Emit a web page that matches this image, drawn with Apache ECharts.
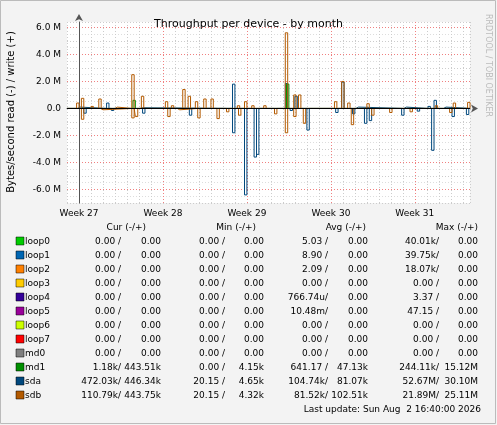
<!DOCTYPE html>
<html>
<head>
<meta charset="utf-8">
<script src="https://cdn.jsdelivr.net/npm/echarts@6/dist/echarts.min.js"></script>
<style>
  html, body { margin: 0; padding: 0; background: #f3f3f3; }
  #chart { width: 497px; height: 425px; }
</style>
</head>
<body>
<div id="chart"></div>
<script>
// spikes: [day since left edge, value in bytes/s], write positive, read negative
const sdaWrite = [[1.0, 0.1e6], [3.4, 0.4e6], [6.2, 0.05e6], [13.9, 1.8e6], [18.3, 1.85e6], [19.1, 0.9e6], [23.0, 1.95e6], [24.2, 0.1e6], [28.2, 0.1e6], [30.2, 0.15e6], [30.7, 0.6e6], [31.5, 0.1e6]];
const sdaRead = [[1.5, -0.35e6], [3.8, -0.15e6], [6.4, -0.35e6], [10.3, -0.5e6], [13.9, -1.8e6], [14.9, -6.4e6], [15.7, -3.6e6], [15.9, -3.4e6], [18.7, -0.15e6], [20.1, -1.6e6], [22.5, -0.3e6], [23.9, -0.4e6], [24.9, -1.1e6], [25.3, -0.9e6], [28.0, -0.5e6], [29.3, -0.2e6], [30.5, -3.1e6], [32.2, -0.6e6], [33.4, -0.45e6]];
const sdbWrite = [[0.9, 0.4e6], [1.3, 0.75e6], [2.1, 0.15e6], [2.75, 0.7e6], [4.1, 0.1e6], [5.5, 2.5e6], [6.3, 0.9e6], [8.3, 0.5e6], [8.8, 0.2e6], [9.75, 1.4e6], [10.2, 0.9e6], [10.8, 0.5e6], [11.5, 0.7e6], [12.1, 0.7e6], [14.3, 0.2e6], [14.9, 0.5e6], [15.5, 0.2e6], [16.5, 0.2e6], [18.3, 5.6e6], [19.0, 1.0e6], [19.4, 1.0e6], [22.4, 0.5e6], [23.0, 2.0e6], [23.5, 0.4e6], [25.1, 0.35e6], [30.8, 0.2e6], [32.3, 0.4e6], [33.5, 0.45e6]];
const sdbRead = [[1.3, -0.8e6], [2.9, -0.1e6], [5.5, -0.7e6], [5.8, -0.6e6], [8.5, -0.6e6], [9.3, -0.1e6], [11.0, -0.7e6], [12.6, -0.75e6], [13.4, -0.25e6], [14.4, -0.5e6], [17.4, -0.4e6], [18.3, -1.8e6], [19.0, -0.6e6], [19.8, -1.1e6], [23.8, -1.2e6], [25.5, -0.5e6], [27.0, -0.3e6], [28.7, -0.25e6], [32.0, -0.3e6]];
const md1Write = [[5.6, 0.6e6], [18.4, 1.8e6]];

const names = ['loop0', 'loop1', 'loop2', 'loop3', 'loop4', 'loop5', 'loop6', 'loop7', 'md0', 'md1', 'sda', 'sdb'];
const swatches = ['#00cc00', '#0066b3', '#ff8000', '#ffcc00', '#330099', '#990099', '#ccff00', '#ff0000', '#808080', '#008f00', '#00487d', '#b35a00'];
const curVals = [['0.00 /', '0.00'], ['0.00 /', '0.00'], ['0.00 /', '0.00'], ['0.00 /', '0.00'], ['0.00 /', '0.00'], ['0.00 /', '0.00'], ['0.00 /', '0.00'], ['0.00 /', '0.00'], ['0.00 /', '0.00'], ['1.18k/', '443.51k'], ['472.03k/', '446.34k'], ['110.79k/', '443.75k']];
const minVals = [['0.00 /', '0.00'], ['0.00 /', '0.00'], ['0.00 /', '0.00'], ['0.00 /', '0.00'], ['0.00 /', '0.00'], ['0.00 /', '0.00'], ['0.00 /', '0.00'], ['0.00 /', '0.00'], ['0.00 /', '0.00'], ['0.00 /', '4.15k'], ['20.15 /', '4.65k'], ['20.15 /', '4.32k']];
const avgVals = [['5.03 /', '0.00'], ['8.90 /', '0.00'], ['2.09 /', '0.00'], ['0.00 /', '0.00'], ['766.74u/', '0.00'], ['10.48m/', '0.00'], ['0.00 /', '0.00'], ['0.00 /', '0.00'], ['0.00 /', '0.00'], ['641.17 /', '47.13k'], ['104.74k/', '81.07k'], ['81.52k/', '102.51k']];
const maxVals = [['40.01k/', '0.00'], ['39.75k/', '0.00'], ['18.07k/', '0.00'], ['0.00 /', '0.00'], ['3.37 /', '0.00'], ['47.15 /', '0.00'], ['0.00 /', '0.00'], ['0.00 /', '0.00'], ['0.00 /', '0.00'], ['244.11k/', '15.12M'], ['52.67M/', '30.10M'], ['21.89M/', '25.11M']];

// left edge of the graph is one day before the start of week 27
const X_MIN = -1;

function spikes(list) {
  const out = [[X_MIN, 0]];
  list.slice().sort((a, b) => a[0] - b[0]).forEach(([d, v]) => {
    const x = d + X_MIN;
    out.push([x - 0.1, 0], [x - 0.1, v], [x + 0.1, v], [x + 0.1, 0]);
  });
  out.push([33.6 + X_MIN, 0]);
  return out;
}

function line(name, list, color) {
  return {
    name, type: 'line', data: spikes(list), showSymbol: false, silent: true,
    lineStyle: { color, width: 1 }, animation: false
  };
}

const font = 'DejaVu Sans';
const fs = '9px ' + font;
const graphic = [
  { type: 'rect', shape: { x: 0.5, y: 0.5, width: 495, height: 423 }, style: { fill: 'none', stroke: '#bbb' } },
  { type: 'text', x: 492, y: 14, rotation: -Math.PI / 2, style: { text: 'RRDTOOL / TOBI OETIKER', fill: '#bbb', font: '8px ' + font } }
];
const headers = [['Cur (-/+)', 146], ['Min (-/+)', 256], ['Avg (-/+)', 366], ['Max (-/+)', 478]];
headers.forEach(([t, x]) => graphic.push({ type: 'text', x, y: 228, style: { text: t, fill: '#000', font: fs, textAlign: 'right', textVerticalAlign: 'middle' } }));
const cols = [[curVals, 121, 161], [minVals, 225, 264], [avgVals, 328, 368], [maxVals, 439, 478]];
names.forEach((n, i) => {
  const y = 242 + i * 14;
  graphic.push({ type: 'rect', shape: { x: 16, y: y - 5, width: 8, height: 8 }, style: { fill: swatches[i], stroke: '#000', lineWidth: 0.5 } });
  graphic.push({ type: 'text', x: 25, y, style: { text: n, fill: '#000', font: fs, textVerticalAlign: 'middle' } });
  cols.forEach(([vals, xr, xw]) => {
    graphic.push({ type: 'text', x: xr, y, style: { text: vals[i][0], fill: '#000', font: fs, textAlign: 'right', textVerticalAlign: 'middle' } });
    graphic.push({ type: 'text', x: xw, y, style: { text: vals[i][1], fill: '#000', font: fs, textAlign: 'right', textVerticalAlign: 'middle' } });
  });
});
graphic.push({ type: 'text', x: 481, y: 410, style: { text: 'Last update: Sun Aug\u00a0 2 16:40:00 2026', fill: '#000', font: fs, textAlign: 'right', textVerticalAlign: 'middle' } });
graphic.push({ type: 'text', x: 11, y: 112, rotation: Math.PI / 2, style: { text: 'Bytes/second read (-) / write (+)', fill: '#000', font: '10px ' + font, textAlign: 'center', textVerticalAlign: 'middle' } });

const chart = echarts.init(document.getElementById('chart'));
chart.setOption({
  backgroundColor: '#f3f3f3',
  animation: false,
  title: { text: 'Throughput per device - by month', left: 'center', top: 14, textStyle: { fontFamily: font, fontSize: 11, fontWeight: 'normal', color: '#000' } },
  grid: { left: 67, right: 27, top: 22, bottom: 222, backgroundColor: '#fff', show: true, borderWidth: 0 },
  xAxis: {
    type: 'value', min: X_MIN, max: 33.6 + X_MIN, interval: 1,
    axisLine: { lineStyle: { color: '#555' }, symbol: ['none', 'arrow'], symbolSize: [6, 7], symbolOffset: [0, 8] },
    axisTick: { show: false },
    axisLabel: { showMaxLabel: false, showMinLabel: false, color: '#000', fontFamily: font, fontSize: 9, margin: 6,
      formatter: v => {
        const d = Math.round(v);
        return d >= 0 && d % 7 === 0 ? 'Week ' + (27 + d / 7) : '';
      } },
    splitLine: { show: true, lineStyle: { type: [1, 2], width: 1, color: ['#ccc', '#f08080', '#ccc', '#ccc', '#ccc', '#ccc', '#ccc'] } }
  },
  yAxis: {
    type: 'value', min: -7e6, max: 6.4e6, interval: 1e6,
    axisLine: { show: true, lineStyle: { color: '#555' }, symbol: ['none', 'arrow'], symbolSize: [6, 7], symbolOffset: [0, 8] },
    axisTick: { show: false },
    axisLabel: { showMaxLabel: false, color: '#000', fontFamily: font, fontSize: 9, margin: 6,
      formatter: v => {
        const m = Math.round(v / 1e6);
        if (m % 2 !== 0) return '';
        return m === 0 ? '0.0' : m.toFixed(1) + ' M';
      } },
    splitLine: { show: true, lineStyle: { type: [1, 2], width: 1, color: ['#ccc', '#f08080'] } },
    minorTick: { show: false, splitNumber: 2 },
    minorSplitLine: { show: true, lineStyle: { type: [1, 2], color: '#ddd' } }
  },
  series: [
    Object.assign(line('sda write', sdaWrite, '#00487d'), {
      markLine: { silent: true, symbol: 'none', label: { show: false }, lineStyle: { color: '#000', type: 'solid', width: 1 }, data: [{ yAxis: 0 }] }
    }),
    line('sda read', sdaRead, '#00487d'),
    line('md1 write', md1Write, '#008f00'),
    line('sdb write', sdbWrite, '#b35a00'),
    line('sdb read', sdbRead, '#b35a00')
  ],
  graphic
});
</script>
</body>
</html>
